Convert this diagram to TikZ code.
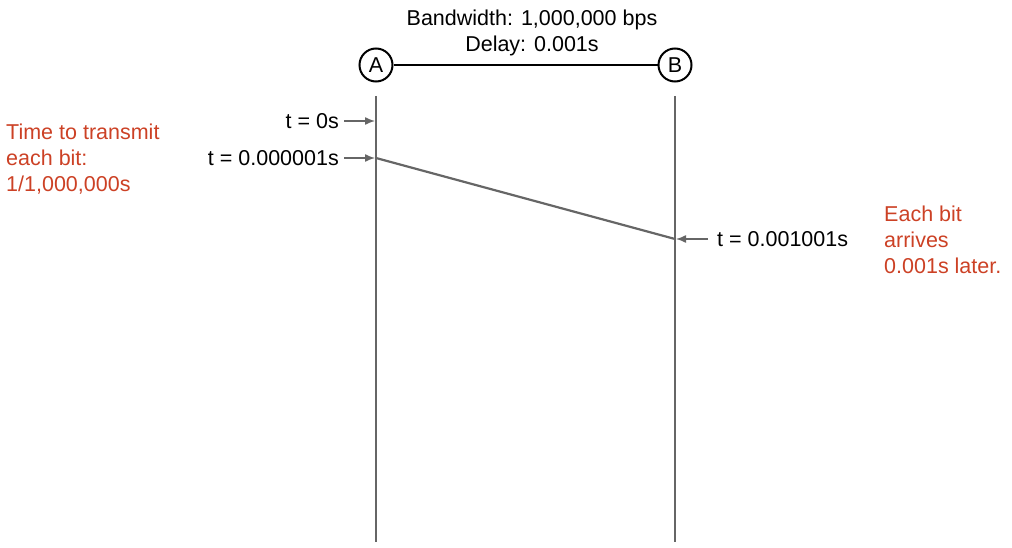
\documentclass[tikz,border=0pt]{standalone}
\usepackage{fontspec}
\setmainfont{Liberation Sans}
\usetikzlibrary{arrows.meta}
\definecolor{notered}{RGB}{204,65,37}
\definecolor{linegray}{RGB}{102,102,102}
\begin{document}
\begin{tikzpicture}[x=1pt,y=-1pt,font=\fontsize{21.5}{26}\selectfont,
        host/.style={draw,circle,line width=2pt,minimum size=33pt,inner sep=0pt},
        timeline/.style={draw=linegray,line width=2.2pt},
        stamp/.style={inner sep=5pt},
        pointer/.style={draw=linegray,line width=1.4pt,-{Latex[length=10pt,width=8pt]}},
        note/.style={text=notered,align=left,inner sep=0pt}]
    \useasboundingbox (0,0) rectangle (1012,548);
    \node[host] (A) at (376,65) {A};
    \node[host] (B) at (675,65) {B};
    \draw[line width=2pt] (A) -- (B);
    \node[align=center] (link) at (532,33) {Bandwidth: 1,000,000 bps\\Delay: 0.001s};
    % timelines
    \coordinate (atop) at (376,96);
    \coordinate (abot) at (376,542);
    \coordinate (btop) at (675,96);
    \coordinate (bbot) at (675,542);
    \draw[timeline] (atop) -- (abot);
    \draw[timeline] (btop) -- (bbot);
    % first and last bit leave A, arrive at B
    \coordinate (start) at (376,121);
    \coordinate (sent) at (376,158);
    \coordinate (arrived) at (675,239);
    \draw[timeline] (sent) -- (arrived);
    \node[stamp,anchor=east] (tzero) at (344,121) {t = 0s};
    \node[stamp,anchor=east] (tone) at (344,158) {t = 0.000001s};
    \node[stamp,anchor=west] (tarr) at (712,239) {t = 0.001001s};
    \draw[pointer] (tzero) -- ([xshift=-1pt]start);
    \draw[pointer] (tone) -- ([xshift=-1pt]sent);
    \draw[pointer] ([xshift=-4pt]tarr.west) -- ([xshift=1pt]arrived);
    % notes
    \node[note,anchor=west] (bittime) at (6,159) {Time to transmit\\each bit:\\1/1,000,000s};
    \node[note,anchor=west] (later) at (884,240) {Each bit\\arrives\\0.001s later.};
\end{tikzpicture}
\end{document}
